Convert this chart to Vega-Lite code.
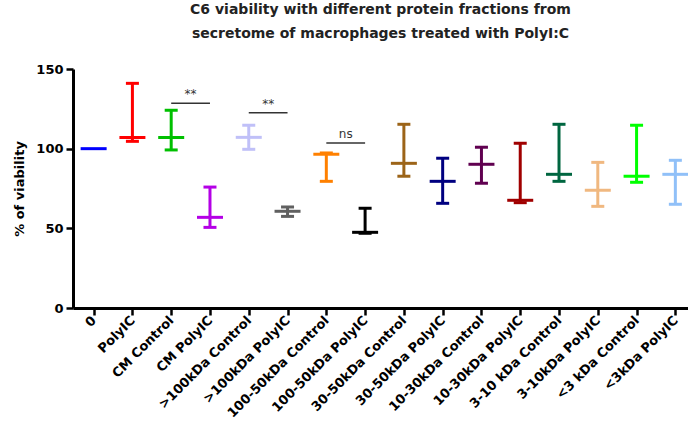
{
  "$schema": "https://vega.github.io/schema/vega-lite/v6.json",
  "autosize": {"type": "none"},
  "padding": {"left": 73, "top": 69, "right": 0, "bottom": 130},
  "width": 615,
  "height": 239,
  "background": "white",
  "title": {
    "text": ["C6 viability with different protein fractions from", "secretome of macrophages treated with PolyI:C"],
    "font": "DejaVu Sans",
    "fontSize": 14,
    "fontWeight": "bold",
    "color": "#222222",
    "lineHeight": 24,
    "anchor": "middle",
    "offset": 22
  },
  "datasets": {
    "groups": [
      {"group": "0", "mean": 100, "lower": null, "upper": null},
      {"group": "PolyIC", "mean": 107, "lower": 104.6, "upper": 141},
      {"group": "CM Control", "mean": 107, "lower": 99.2, "upper": 124.1},
      {"group": "CM PolyIC", "mean": 56.9, "lower": 50.6, "upper": 75.9},
      {"group": ">100kDa Control", "mean": 107.1, "lower": 99.6, "upper": 114.7},
      {"group": ">100kDa PolyIC", "mean": 60.7, "lower": 57.5, "upper": 63.4},
      {"group": "100-50kDa Control", "mean": 96.5, "lower": 79.5, "upper": 97.3},
      {"group": "100-50kDa PolyIC", "mean": 47.5, "lower": 46.9, "upper": 62.6},
      {"group": "30-50kDa Control", "mean": 90.8, "lower": 82.7, "upper": 115.3},
      {"group": "30-50kDa PolyIC", "mean": 79.5, "lower": 65.7, "upper": 94},
      {"group": "10-30kDa Control", "mean": 90.2, "lower": 78.3, "upper": 100.9},
      {"group": "10-30kDa PolyIC", "mean": 67.6, "lower": 66.1, "upper": 103.4},
      {"group": "3-10 kDa Control", "mean": 83.9, "lower": 79.5, "upper": 115.3},
      {"group": "3-10kDa PolyIC", "mean": 73.9, "lower": 63.8, "upper": 91.4},
      {"group": "<3 kDa Control", "mean": 82.7, "lower": 78.9, "upper": 114.7},
      {"group": "<3kDa PolyIC", "mean": 83.9, "lower": 65.1, "upper": 92.7}
    ],
    "sig": [
      {"from": "CM Control", "to": "CM PolyIC", "y": 128.5, "label": "**"},
      {"from": ">100kDa Control", "to": ">100kDa PolyIC", "y": 122.6, "label": "**"},
      {"from": "100-50kDa Control", "to": "100-50kDa PolyIC", "y": 103.6, "label": "ns"}
    ]
  },
  "config": {
    "view": {"stroke": null},
    "tick": {"opacity": 1},
    "rule": {"opacity": 1},
    "axis": {
      "grid": false,
      "domainColor": "#000000",
      "domainWidth": 3,
      "tickColor": "#000000",
      "tickWidth": 2.5,
      "labelFont": "DejaVu Sans",
      "labelFontWeight": "bold",
      "labelColor": "#000000",
      "titleFont": "DejaVu Sans",
      "titleFontWeight": "bold",
      "titleColor": "#000000"
    }
  },
  "resolve": {"scale": {"x": "shared", "y": "shared"}},
  "layer": [
    {
      "data": {"name": "groups"},
      "mark": {"type": "rule", "strokeWidth": 3, "opacity": 1},
      "encoding": {
        "x": {
          "field": "group",
          "type": "nominal",
          "sort": null,
          "scale": {
            "type": "point",
            "domain": ["0", "PolyIC", "CM Control", "CM PolyIC", ">100kDa Control", ">100kDa PolyIC", "100-50kDa Control", "100-50kDa PolyIC", "30-50kDa Control", "30-50kDa PolyIC", "10-30kDa Control", "10-30kDa PolyIC", "3-10 kDa Control", "3-10kDa PolyIC", "<3 kDa Control", "<3kDa PolyIC"],
            "padding": 0.429,
            "align": 0.62
          },
          "axis": {
            "title": null,
            "labelAngle": -45,
            "labelAlign": "right",
            "labelBaseline": "middle",
            "labelFontSize": 13,
            "labelPadding": 3,
            "tickSize": 7
          }
        },
        "y": {
          "field": "lower",
          "type": "quantitative",
          "scale": {"domain": [0, 150], "nice": false, "zero": true},
          "axis": {
            "title": "% of viability",
            "values": [0, 50, 100, 150],
            "labelFontSize": 13,
            "titleFontSize": 13,
            "tickSize": 7,
            "labelPadding": 3,
            "titlePadding": 9
          }
        },
        "y2": {"field": "upper"},
        "color": {
          "field": "group",
          "type": "nominal",
          "legend": null,
          "scale": {
            "domain": ["0", "PolyIC", "CM Control", "CM PolyIC", ">100kDa Control", ">100kDa PolyIC", "100-50kDa Control", "100-50kDa PolyIC", "30-50kDa Control", "30-50kDa PolyIC", "10-30kDa Control", "10-30kDa PolyIC", "3-10 kDa Control", "3-10kDa PolyIC", "<3 kDa Control", "<3kDa PolyIC"],
            "range": ["#0000ff", "#ff0000", "#00c000", "#b400e6", "#c0c0f8", "#606060", "#ff8000", "#000000", "#9c6418", "#000080", "#600050", "#a00000", "#006640", "#f0b880", "#00ff00", "#90c0f8"]
          }
        }
      }
    },
    {
      "data": {"name": "groups"},
      "mark": {"type": "tick", "size": 13, "thickness": 3, "opacity": 1},
      "encoding": {
        "x": {"field": "group", "type": "nominal", "sort": null},
        "y": {"field": "upper", "type": "quantitative"},
        "color": {"field": "group", "type": "nominal", "legend": null}
      }
    },
    {
      "data": {"name": "groups"},
      "mark": {"type": "tick", "size": 13, "thickness": 3, "opacity": 1},
      "encoding": {
        "x": {"field": "group", "type": "nominal", "sort": null},
        "y": {"field": "lower", "type": "quantitative"},
        "color": {"field": "group", "type": "nominal", "legend": null}
      }
    },
    {
      "data": {"name": "groups"},
      "mark": {"type": "tick", "size": 26, "thickness": 3, "opacity": 1},
      "encoding": {
        "x": {"field": "group", "type": "nominal", "sort": null},
        "y": {"field": "mean", "type": "quantitative"},
        "color": {"field": "group", "type": "nominal", "legend": null}
      }
    },
    {
      "data": {"name": "sig"},
      "mark": {"type": "rule", "strokeWidth": 1.5, "color": "#333333"},
      "encoding": {
        "x": {"field": "from", "type": "nominal", "sort": null},
        "x2": {"field": "to"},
        "y": {"field": "y", "type": "quantitative"}
      }
    },
    {
      "data": {"name": "sig"},
      "mark": {"type": "text", "font": "DejaVu Sans", "fontSize": 12, "color": "#333333", "baseline": "bottom", "align": "center", "dx": 19.4, "dy": -2},
      "encoding": {
        "x": {"field": "from", "type": "nominal", "sort": null},
        "y": {"field": "y", "type": "quantitative"},
        "text": {"field": "label", "type": "nominal"}
      }
    }
  ]
}
